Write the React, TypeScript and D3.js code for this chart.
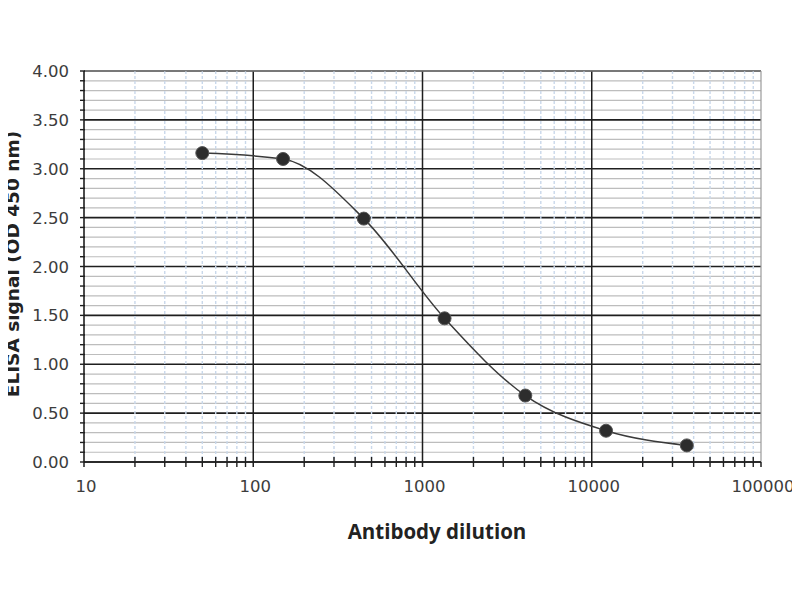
import React from "react";
import * as d3 from "d3";

const dilutions = [50, 150, 450, 1350, 4050, 12150, 36450];
const signals = [3.16, 3.1, 2.49, 1.47, 0.68, 0.32, 0.17];
const xTickValues = [10, 100, 1000, 10000, 100000];
const yTickLabels = ["0.00", "0.50", "1.00", "1.50", "2.00", "2.50", "3.00", "3.50", "4.00"];

const W = 800;
const H = 600;
const left = 84;
const right = 761;
const top = 71;
const bottom = 462;

export default function App() {
  const x = d3.scaleLog().domain([10, 100000]).range([left, right]);
  const y = d3.scaleLinear().domain([0, 4]).range([bottom, top]);

  const minorX: number[] = [];
  for (let d = 10; d < 100000; d *= 10) {
    for (let k = 2; k <= 9; k++) minorX.push(d * k);
  }
  const minorY = d3.range(0, 41).map((i) => i / 10);
  const majorY = yTickLabels.map((t) => +t);

  const line = d3
    .line<number>()
    .x((_, i) => x(dilutions[i]))
    .y((v) => y(v))
    .curve(d3.curveMonotoneX);

  const tickFont = "DejaVu Sans, Verdana, sans-serif";

  return (
    <svg width={W} height={H} style={{ display: "block", margin: "-8px" }}>
      <rect width={W} height={H} fill="#fff" />
      {/* horizontal minor grid */}
      {minorY.filter((v) => Math.round(v * 10) % 5 !== 0).map((v) => (
        <line key={"hy" + v} x1={left} x2={right} y1={y(v)} y2={y(v)} stroke="#bdbdbd" strokeWidth={1.2} />
      ))}
      {/* horizontal major grid */}
      {majorY.map((v) => (
        <line key={"HY" + v} x1={left} x2={right} y1={y(v)} y2={y(v)} stroke="#1e1e1e" strokeWidth={1.6} />
      ))}
      {/* vertical minor grid */}
      {minorX.map((v) => (
        <line key={"vx" + v} x1={x(v)} x2={x(v)} y1={top} y2={bottom} stroke="#c9d8ea" strokeWidth={1.4} strokeDasharray="3 2" />
      ))}
      {/* vertical major grid */}
      {xTickValues.slice(1, -1).map((v) => (
        <line key={"VX" + v} x1={x(v)} x2={x(v)} y1={top} y2={bottom} stroke="#1e1e1e" strokeWidth={1.5} />
      ))}
      {/* border top/right */}
      <line x1={left} x2={right} y1={top} y2={top} stroke="#9a9a9a" strokeWidth={1.2} />
      <line x1={right} x2={right} y1={top} y2={bottom} stroke="#9a9a9a" strokeWidth={1.2} />
      {/* axes */}
      <line x1={left} x2={left} y1={top} y2={bottom} stroke="#1e1e1e" strokeWidth={1.6} />
      <line x1={left} x2={right} y1={bottom} y2={bottom} stroke="#1e1e1e" strokeWidth={1.6} />
      {minorY.map((v) => (
        <line key={"ty" + v} x1={left - 4} x2={left + 1} y1={y(v)} y2={y(v)} stroke="#1e1e1e" strokeWidth={1.4} />
      ))}
      {minorX.map((v) => (
        <line key={"tx" + v} x1={x(v)} x2={x(v)} y1={bottom - 5} y2={bottom + 5} stroke="#1e1e1e" strokeWidth={1.4} />
      ))}
      {xTickValues.map((v) => (
        <line key={"TX" + v} x1={x(v)} x2={x(v)} y1={bottom} y2={bottom + 5} stroke="#1e1e1e" strokeWidth={1.5} />
      ))}
      {/* tick labels */}
      {yTickLabels.map((t) => (
        <text key={"ly" + t} x={left - 15} y={y(+t)} dy="0.37em" textAnchor="end" fontFamily={tickFont} fontSize={16.5} fill="#3c3c3c">
          {t}
        </text>
      ))}
      {xTickValues.map((v) => (
        <text key={"lx" + v} x={x(v) + 2} y={bottom + 30} textAnchor="middle" fontFamily={tickFont} fontSize={16.5} fill="#3c3c3c">
          {String(v)}
        </text>
      ))}
      {/* series */}
      <path d={line(signals) || ""} fill="none" stroke="#3a3a3a" strokeWidth={1.5} />
      {signals.map((v, i) => (
        <circle key={"p" + i} cx={x(dilutions[i])} cy={y(v)} r={6.5} fill="#2d2d2d" stroke="#555" strokeWidth={1} />
      ))}
      {/* axis titles */}
      <text x={437} y={539} textAnchor="middle" fontFamily="Open Sans, sans-serif" fontWeight="bold" fontSize={20.5} fill="#222">
        Antibody dilution
      </text>
      <text transform={`translate(19,264) rotate(-90)`} textAnchor="middle" fontFamily="DejaVu Sans, Verdana, sans-serif" fontWeight="bold" fontSize={18.5} fill="#222">
        ELISA signal (OD 450 nm)
      </text>
    </svg>
  );
}
